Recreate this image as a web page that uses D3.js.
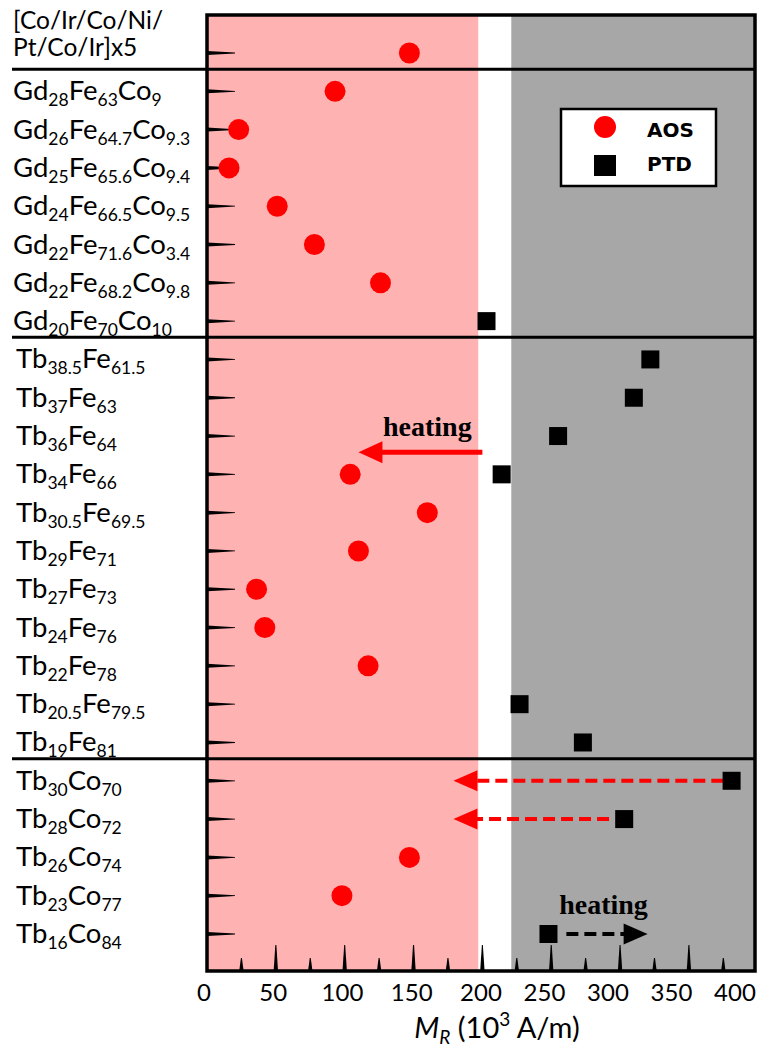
<!DOCTYPE html>
<html>
<head>
<meta charset="utf-8">
<script src="https://cdn.jsdelivr.net/npm/d3@7"></script>
<style>
  body { margin: 0; background: #fff; }
  text { font-family: Lato, "Open Sans", sans-serif; }
</style>
</head>
<body>
<div id="chart"></div>
<script>
// sample names, "_{..}" marks a subscript, "|" a line break
const categories = [
  "[Co/Ir/Co/Ni/|Pt/Co/Ir]x5",
  "Gd_{28}Fe_{63}Co_{9}",
  "Gd_{26}Fe_{64.7}Co_{9.3}",
  "Gd_{25}Fe_{65.6}Co_{9.4}",
  "Gd_{24}Fe_{66.5}Co_{9.5}",
  "Gd_{22}Fe_{71.6}Co_{3.4}",
  "Gd_{22}Fe_{68.2}Co_{9.8}",
  "Gd_{20}Fe_{70}Co_{10}",
  "Tb_{38.5}Fe_{61.5}",
  "Tb_{37}Fe_{63}",
  "Tb_{36}Fe_{64}",
  "Tb_{34}Fe_{66}",
  "Tb_{30.5}Fe_{69.5}",
  "Tb_{29}Fe_{71}",
  "Tb_{27}Fe_{73}",
  "Tb_{24}Fe_{76}",
  "Tb_{22}Fe_{78}",
  "Tb_{20.5}Fe_{79.5}",
  "Tb_{19}Fe_{81}",
  "Tb_{30}Co_{70}",
  "Tb_{28}Co_{72}",
  "Tb_{26}Co_{74}",
  "Tb_{23}Co_{77}",
  "Tb_{16}Co_{84}"
];

// M_R (10^3 A/m), null = no mark
const aosValues = [147, 93, 23, 16, 51, 78, 126, null,
  null, null, null, 104, 160, 110, 36, 42, 117, null, null,
  null, null, 147, 98, null];
const ptdValues = [null, null, null, null, null, null, null, 203,
  322, 310, 255, 214, null, null, null, null, null, 227, 273,
  381, 303, null, null, 248];

// last row index of each group (separator drawn below)
const groupEnds = [0, 7, 18];

// shaded bands
const aosBand = [0, 197];
const ptdBand = [221, 398];

// heating arrows
const arrowRows = ["Tb_{34}Fe_{66}", "Tb_{30}Co_{70}", "Tb_{28}Co_{72}", "Tb_{16}Co_{84}"];
const arrowFrom = [200, 375, 292, 261];
const arrowTo = [110, 179, 179, 320];
const arrowDashed = [false, true, true, true];
const arrowColor = ["#ff0000", "#ff0000", "#ff0000", "#000"];

const xTickLabels = [0, 50, 100, 150, 200, 250, 300, 350, 400];
const xMinorTicks = d3.range(25, 400, 25);

const width = 766, height = 1053;
const pLeft = 207, pRight = 755, pTop = 15, pBottom = 971;

const svg = d3.select("#chart").append("svg")
    .attr("width", width)
    .attr("height", height);

const x = d3.scaleLinear().domain([0, 398]).range([pLeft, pRight]);
// the printed tick numbers sit a bit off the tick marks in the original
const labelX = d3.scaleLinear().domain([0, 200, 400]).range([204, 481, 735]);
const y = d3.scalePoint().domain(categories).range([53, 934]);

// bands
svg.append("rect")
    .attr("x", x(aosBand[0])).attr("y", pTop)
    .attr("width", x(aosBand[1]) - x(aosBand[0])).attr("height", pBottom - pTop)
    .attr("fill", "#ffb2b2");
svg.append("rect")
    .attr("x", x(ptdBand[0])).attr("y", pTop)
    .attr("width", x(ptdBand[1]) - x(ptdBand[0])).attr("height", pBottom - pTop)
    .attr("fill", "#a7a7a7");

// group separators
const step = y.step();
svg.selectAll(".sep")
    .data(groupEnds)
    .enter().append("line")
    .attr("class", "sep")
    .attr("x1", 12).attr("x2", pRight)
    .attr("y1", (d) => y(categories[d]) + step / 2 - 3)
    .attr("y2", (d) => y(categories[d]) + step / 2 - 3)
    .attr("stroke", "#000").attr("stroke-width", 3);

// y ticks (tapered)
svg.selectAll(".ytick")
    .data(categories)
    .enter().append("path")
    .attr("class", "ytick")
    .attr("d", (d) => {
      let yy = y(d);
      return `M${pLeft},${yy - 2}L${pLeft + 28},${yy - 0.4}L${pLeft + 28},${yy + 0.4}L${pLeft},${yy + 2}Z`;
    })
    .attr("fill", "#000");

// x ticks (tapered, pointing up)
svg.selectAll(".xtick")
    .data(xMinorTicks)
    .enter().append("path")
    .attr("class", "xtick")
    .attr("d", (d) => {
      let xx = x(d), h = d % 50 === 0 ? 26 : 13;
      return `M${xx - 2.2},${pBottom}L${xx - 0.5},${pBottom - h}L${xx + 0.5},${pBottom - h}L${xx + 2.2},${pBottom}Z`;
    })
    .attr("fill", "#000");

// frame
svg.append("rect")
    .attr("x", pLeft).attr("y", pTop)
    .attr("width", pRight - pLeft).attr("height", pBottom - pTop)
    .attr("fill", "none")
    .attr("stroke", "#000")
    .attr("stroke-width", 3.5);

// row labels
function addRich(sel, str, size, subSize) {
  let parts = str.split(/(_\{[^}]*\})/).filter((p) => p.length);
  let shifted = false;
  parts.forEach((p) => {
    if (p.startsWith("_{")) {
      sel.append("tspan").attr("font-size", subSize)
        .attr("dy", shifted ? 0 : 6).text(p.slice(2, -1));
      shifted = true;
    } else {
      sel.append("tspan").attr("font-size", size)
        .attr("dy", shifted ? -6 : 0).text(p);
      shifted = false;
    }
  });
}

categories.forEach((c) => {
  let lines = c.split("|");
  if (lines.length > 1) {
    lines.forEach((ln, i) => {
      let t = svg.append("text").attr("x", 13)
        .attr("y", y(c) - 24 + i * 27).attr("fill", "#000");
      addRich(t, ln, 24.5, 17);
    });
  } else {
    let t = svg.append("text")
      .attr("x", c.startsWith("Tb") ? 16 : 13)
      .attr("y", y(c) + 9).attr("fill", "#000");
    addRich(t, c, 27.5, 17.5);
  }
});

// arrows
arrowRows.forEach((r, i) => {
  let yy = y(r) + (i === 0 ? -22 : 0);
  let x0 = x(arrowFrom[i]), x1 = x(arrowTo[i]);
  let dir = Math.sign(x1 - x0);
  let headLen = 24, headHalf = i === 0 ? 11 : 10.5;
  svg.append("line")
    .attr("x1", x0).attr("x2", x1 - dir * headLen + dir * 2)
    .attr("y1", yy).attr("y2", yy)
    .attr("stroke", arrowColor[i])
    .attr("stroke-width", arrowDashed[i] ? 4 : 5)
    .attr("stroke-dasharray", arrowDashed[i] ? "12,6" : null);
  svg.append("path")
    .attr("d", `M${x1},${yy}L${x1 - dir * headLen},${yy - headHalf}L${x1 - dir * headLen},${yy + headHalf}Z`)
    .attr("fill", arrowColor[i]);
});

svg.append("text")
    .attr("x", x(160)).attr("y", y("Tb_{34}Fe_{66}") - 38)
    .attr("text-anchor", "middle")
    .style("font-family", "'Liberation Serif', serif")
    .attr("font-weight", "bold").attr("font-size", 28)
    .text("heating");
svg.append("text")
    .attr("x", x(288)).attr("y", y("Tb_{16}Co_{84}") - 20)
    .attr("text-anchor", "middle")
    .style("font-family", "'Liberation Serif', serif")
    .attr("font-weight", "bold").attr("font-size", 28)
    .text("heating");

// points
svg.selectAll(".aos")
    .data(categories.map((c, i) => ({c: c, v: aosValues[i]})).filter((d) => d.v !== null))
    .enter().append("circle")
    .attr("class", "aos")
    .attr("cx", (d) => x(d.v))
    .attr("cy", (d) => y(d.c))
    .attr("r", 10.5)
    .attr("fill", "#ff0000");

const sq = 18;
svg.selectAll(".ptd")
    .data(categories.map((c, i) => ({c: c, v: ptdValues[i]})).filter((d) => d.v !== null))
    .enter().append("rect")
    .attr("class", "ptd")
    .attr("x", (d) => x(d.v) - sq / 2)
    .attr("y", (d) => y(d.c) - sq / 2)
    .attr("width", sq).attr("height", sq)
    .attr("fill", "#000");

// legend
const lg = svg.append("g").attr("transform", "translate(561,109)");
lg.append("rect").attr("width", 155).attr("height", 77)
    .attr("fill", "#fff").attr("stroke", "#000").attr("stroke-width", 2.5);
lg.append("circle").attr("cx", 44).attr("cy", 18).attr("r", 11).attr("fill", "#ff0000");
lg.append("rect").attr("x", 33).attr("y", 46).attr("width", 22).attr("height", 21).attr("fill", "#000");
lg.append("text").attr("x", 86).attr("y", 28).text("AOS")
    .style("font-family", "'DejaVu Sans', sans-serif").attr("font-weight", "bold").attr("font-size", 20);
lg.append("text").attr("x", 86).attr("y", 62).text("PTD")
    .style("font-family", "'DejaVu Sans', sans-serif").attr("font-weight", "bold").attr("font-size", 20);

// x tick labels
svg.selectAll(".xlab")
    .data(xTickLabels)
    .enter().append("text")
    .attr("class", "xlab")
    .attr("x", (d) => labelX(d))
    .attr("y", 1001)
    .attr("text-anchor", "middle")
    .attr("font-size", 24)
    .text((d) => d);

// x axis title
const title = svg.append("text")
    .attr("x", 497).attr("y", 1038)
    .attr("text-anchor", "middle")
    .attr("font-size", 29);
title.append("tspan").attr("font-style", "italic").text("M");
title.append("tspan").attr("font-style", "italic").attr("font-size", 19).attr("dy", 6).text("R");
title.append("tspan").attr("dy", -6).text(" (10");
title.append("tspan").attr("font-size", 19).attr("dy", -12).text("3");
title.append("tspan").attr("dy", 12).text(" A/m)");
</script>
</body>
</html>
